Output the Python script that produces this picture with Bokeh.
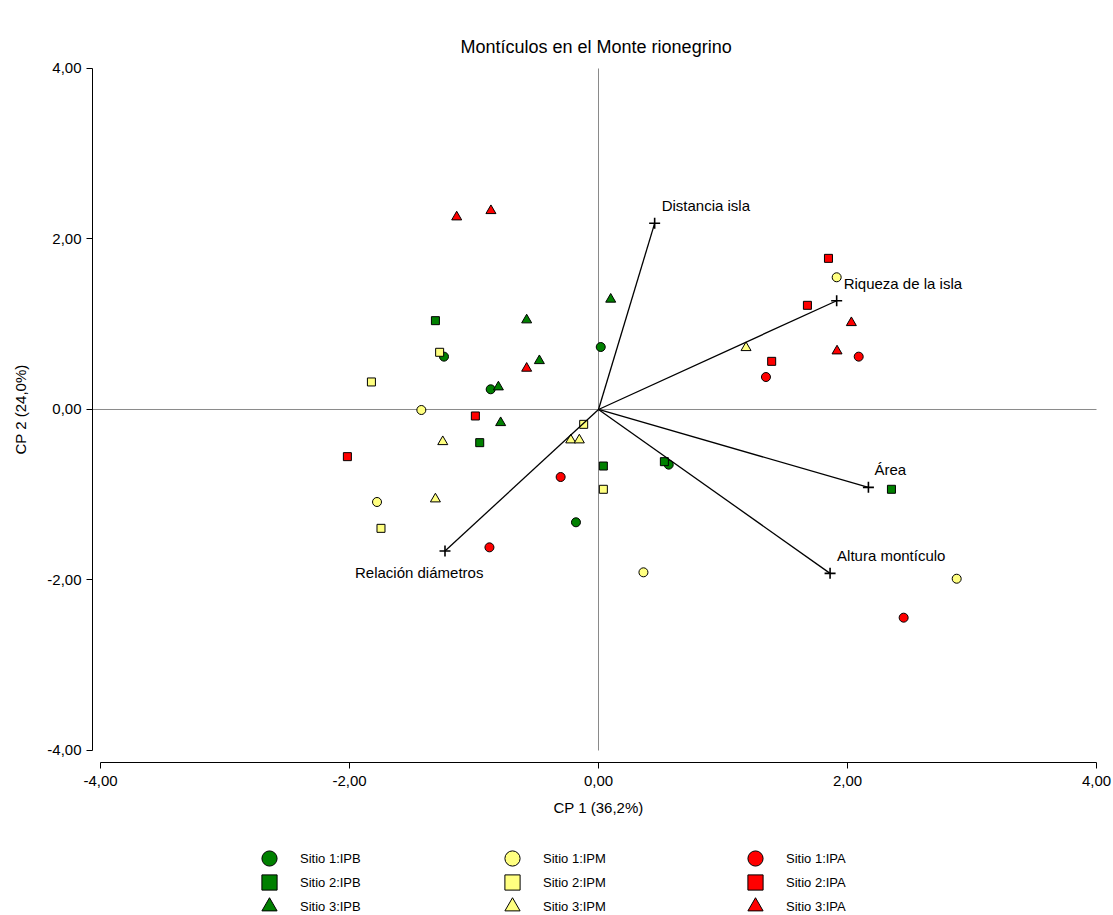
from bokeh.plotting import figure
from bokeh.models import Legend, LegendItem, FixedTicker, Range1d, ColumnDataSource
from bokeh.embed import file_html
from bokeh.resources import INLINE
from bokeh.core.properties import value

FONT = "Liberation Sans"

# ---- data ----
x_ticks = [-4, -2, 0, 2, 4]
x_tick_labels = ["-4,00", "-2,00", "0,00", "2,00", "4,00"]
y_ticks = [-4, -2, 0, 2, 4]
y_tick_labels = ["-4,00", "-2,00", "0,00", "2,00", "4,00"]

ipb1_x = [-1.241, -0.866, 0.018, -0.181, 0.564]
ipb1_y = [0.62, 0.237, 0.733, -1.323, -0.647]
ipb2_x = [-1.31, -0.954, 0.039, 0.529, 2.353]
ipb2_y = [1.042, -0.389, -0.663, -0.612, -0.936]
ipb3_x = [-0.577, -0.475, -0.804, -0.786, 0.098]
ipb3_y = [1.05, 0.572, 0.264, -0.155, 1.293]
ipm1_x = [-1.423, -1.779, 0.361, 2.877, 1.913]
ipm1_y = [-0.006, -1.085, -1.91, -1.985, 1.551]
ipm2_x = [-1.276, -1.824, -0.119, -1.747, 0.039]
ipm2_y = [0.671, 0.323, -0.174, -1.394, -0.936]
ipm3_x = [-1.251, -0.223, -0.154, -1.31, 1.185]
ipm3_y = [-0.378, -0.358, -0.358, -1.05, 0.725]
ipa1_x = [-0.304, -0.876, 1.345, 2.09, 2.451]
ipa1_y = [-0.792, -1.617, 0.381, 0.62, -2.442]
ipa2_x = [-0.989, -2.017, 1.847, 1.678, 1.391]
ipa2_y = [-0.076, -0.553, 1.773, 1.222, 0.565]
ipa3_x = [-1.139, -0.864, -0.577, 2.031, 1.916]
ipa3_y = [2.258, 2.332, 0.483, 1.018, 0.686]

group_names = ["Sitio 1:IPB", "Sitio 2:IPB", "Sitio 3:IPB",
               "Sitio 1:IPM", "Sitio 2:IPM", "Sitio 3:IPM",
               "Sitio 1:IPA", "Sitio 2:IPA", "Sitio 3:IPA"]
group_x = [ipb1_x, ipb2_x, ipb3_x, ipm1_x, ipm2_x, ipm3_x, ipa1_x, ipa2_x, ipa3_x]
group_y = [ipb1_y, ipb2_y, ipb3_y, ipm1_y, ipm2_y, ipm3_y, ipa1_y, ipa2_y, ipa3_y]

var_names = ["Distancia isla", "Riqueza de la isla", "Área", "Altura montículo", "Relación diámetros"]
var_x = [0.451, 1.913, 2.168, 1.86, -1.233]
var_y = [2.184, 1.276, -0.913, -1.922, -1.66]

# ---- styles / layout ----
colors = ["#008000"] * 3 + ["#FFFF80"] * 3 + ["#FF0000"] * 3
markers = ["circle", "square", "triangle"] * 3
sizes = {"circle": 9, "square": 8, "triangle": 10}
label_dx = [7, 7, 6, 7, -90]
label_dy = [-18, -17, -18, -18, 21]
legend_row_vy = [38, 14, -10]   # screen offsets of the three legend rows
yaxis_at = -4.0643              # where the (detached) axes sit
xaxis_at = -4.141

p = figure(width=1113, height=915,
           x_range=Range1d(-4.8032, 4.1365), y_range=Range1d(-5.9355, 4.1173),
           output_backend="svg", toolbar_location=None,
           min_border_left=0, min_border_right=0,
           min_border_top=58, min_border_bottom=0)
p.xgrid.visible = False
p.ygrid.visible = False
p.outline_line_color = None

p.title.text = "Montículos en el Monte rionegrino"
p.title.align = "left"
p.title.offset = 460
p.title.text_font = FONT
p.title.text_font_size = "18px"
p.title.text_font_style = "normal"
p.title.text_color = "black"
p.title.standoff = 4

p.xaxis[0].fixed_location = xaxis_at
p.yaxis[0].fixed_location = yaxis_at

for ax, ticks, labels, lab, tstand, stand in [
        (p.xaxis[0], x_ticks, x_tick_labels, "CP 1 (36,2%)", 7, 10),
        (p.yaxis[0], y_ticks, y_tick_labels, "CP 2 (24,0%)", 5, 15)]:
    ax.bounds = (ticks[0], ticks[-1])
    ax.ticker = FixedTicker(ticks=ticks)
    ax.major_label_overrides = {t: l for t, l in zip(ticks, labels)}
    ax.major_tick_in = 0
    ax.major_tick_out = 6
    ax.minor_tick_in = 0
    ax.minor_tick_out = 0
    ax.axis_line_color = "black"
    ax.major_tick_line_color = "black"
    ax.major_label_text_font = FONT
    ax.major_label_text_font_size = "15px"
    ax.major_label_text_color = "black"
    ax.major_label_standoff = tstand
    ax.axis_label = lab
    ax.axis_label_text_font = FONT
    ax.axis_label_text_font_size = "15px"
    ax.axis_label_text_font_style = "normal"
    ax.axis_label_text_color = "black"
    ax.axis_label_standoff = stand

# zero reference lines
p.segment(x0=[yaxis_at], y0=[0], x1=[x_ticks[-1]], y1=[0], line_color="#8a8a8a", line_width=1)
p.segment(x0=[0], y0=[y_ticks[0]], x1=[0], y1=[y_ticks[-1]], line_color="#8a8a8a", line_width=1)

renderers = []
for name, xs, ys, c, m in zip(group_names, group_x, group_y, colors, markers):
    r = p.scatter(xs, ys, marker=m, size=sizes[m], fill_color=c,
                  line_color="black", line_width=1)
    renderers.append(r)

# biplot vectors
p.segment(x0=[0] * len(var_x), y0=[0] * len(var_y), x1=var_x, y1=var_y,
          line_color="black", line_width=1.3)
p.scatter(var_x, var_y, marker="cross", size=11, line_color="black", line_width=1.6)
src = ColumnDataSource(dict(x=var_x, y=var_y, t=var_names, dx=label_dx, dy=label_dy))
p.text(x="x", y="y", text="t", x_offset="dx", y_offset="dy", source=src,
       text_align="left", text_baseline="middle", text_font=value(FONT),
       text_font_size="15px", text_color="black")

# legend: one row per site (IPB, IPM, IPA columns)
for row in range(3):
    idx = [row, 3 + row, 6 + row]
    items = [LegendItem(label=group_names[i], renderers=[renderers[i]]) for i in idx]
    lg = Legend(items=items, location=(250, legend_row_vy[row]), orientation="horizontal",
                glyph_width=38, glyph_height=38, spacing=0, label_standoff=12,
                label_width=193, padding=0, margin=0,
                border_line_color=None, background_fill_alpha=0,
                label_text_font=FONT, label_text_font_size="13px",
                label_text_color="black")
    p.add_layout(lg)

open("out.html", "w").write(file_html(p, INLINE))
